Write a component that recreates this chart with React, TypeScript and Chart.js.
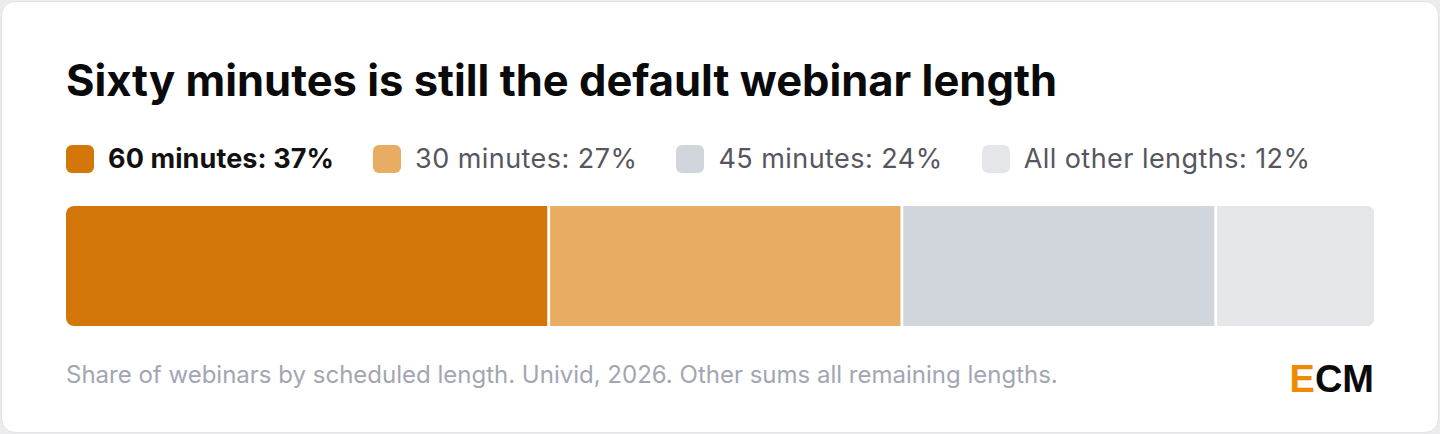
import React, { useEffect, useRef } from 'react';
import Chart from 'chart.js/auto';

// data
const categories = ['60 minutes', '30 minutes', '45 minutes', 'All other lengths'];
const shares = [37, 27, 24, 12];
const rowLabels = ['Webinars'];

const palette = ['#d4770b', '#e8ad63', '#d1d5dc', '#e5e6ea'];
const FONT = 'Inter, "Noto Sans", sans-serif';

const App: React.FC = () => {
  const chartRef = useRef<HTMLCanvasElement>(null);

  useEffect(() => {
    document.body.style.margin = '0';
    document.body.style.background = '#ececef';
    const ctx = chartRef.current?.getContext('2d');
    if (!ctx) return;
    const last = shares.length - 1;
    const chart = new Chart(ctx, {
      type: 'bar',
      data: {
        labels: rowLabels,
        datasets: categories.map((name, i) => ({
          label: name,
          data: [shares[i]],
          backgroundColor: palette[i],
          borderColor: '#ffffff',
          borderWidth: { left: 0, top: 0, bottom: 0, right: i < last ? 3 : 0 },
          borderSkipped: false,
          borderRadius: {
            topLeft: i === 0 ? 8 : 0,
            bottomLeft: i === 0 ? 8 : 0,
            topRight: i === last ? 8 : 0,
            bottomRight: i === last ? 8 : 0,
          },
          barPercentage: 1,
          categoryPercentage: 1,
        })),
      },
      options: {
        indexAxis: 'y',
        animation: false,
        responsive: true,
        maintainAspectRatio: false,
        layout: { padding: 0 },
        plugins: {
          legend: { display: false },
          tooltip: { enabled: false },
        },
        scales: {
          x: { stacked: true, min: 0, max: 100, display: false },
          y: { stacked: true, display: false },
        },
      },
    });
    return () => {
      chart.destroy();
    };
  }, []);

  return (
    <div style={{ position: 'relative', width: 1440, height: 434, fontFamily: FONT }}>
      <div
        style={{
          position: 'absolute', left: 1, top: 1, width: 1438, height: 432,
          boxSizing: 'border-box', border: '1px solid #e2e2e6', borderRadius: 14,
          background: '#ffffff',
        }}
      />
      <div
        style={{
          position: 'absolute', left: 66, top: 59, fontSize: 43.5, lineHeight: '43.5px',
          fontWeight: 700, color: '#0a0a0a', whiteSpace: 'nowrap',
        }}
      >
        Sixty minutes is still the default webinar length
      </div>
      <div
        style={{
          position: 'absolute', left: 66, top: 145, display: 'flex', gap: 39,
          whiteSpace: 'nowrap',
        }}
      >
        {categories.map((name, i) => (
          <div key={name} style={{ display: 'flex', alignItems: 'center', gap: 14 }}>
            <span
              style={{
                display: 'inline-block', width: 28, height: 28, borderRadius: 6,
                background: palette[i],
              }}
            />
            <span
              style={{
                fontSize: 27, lineHeight: '28px', letterSpacing: i === 0 ? 0.1 : 0.45,
                fontWeight: i === 0 ? 700 : 400,
                color: i === 0 ? '#111111' : '#56565f',
              }}
            >
              {`${name}: ${shares[i]}%`}
            </span>
          </div>
        ))}
      </div>
      <div style={{ position: 'absolute', left: 66, top: 206, width: 1308, height: 120 }}>
        <canvas ref={chartRef} />
      </div>
      <div
        style={{
          position: 'absolute', left: 66, top: 362.5, fontSize: 24, lineHeight: '24px',
          color: '#a2a6b3', whiteSpace: 'nowrap',
        }}
      >
        Share of webinars by scheduled length. Univid, 2026. Other sums all remaining lengths.
      </div>
      <div
        style={{
          position: 'absolute', right: 66, top: 360, fontSize: 38, lineHeight: '38px',
          fontWeight: 700, fontFamily: '"Liberation Sans", Arial, sans-serif',
          whiteSpace: 'nowrap', color: '#0a0a0a',
        }}
      >
        <span style={{ color: '#f08a00' }}>E</span>CM
      </div>
    </div>
  );
};

export default App;
